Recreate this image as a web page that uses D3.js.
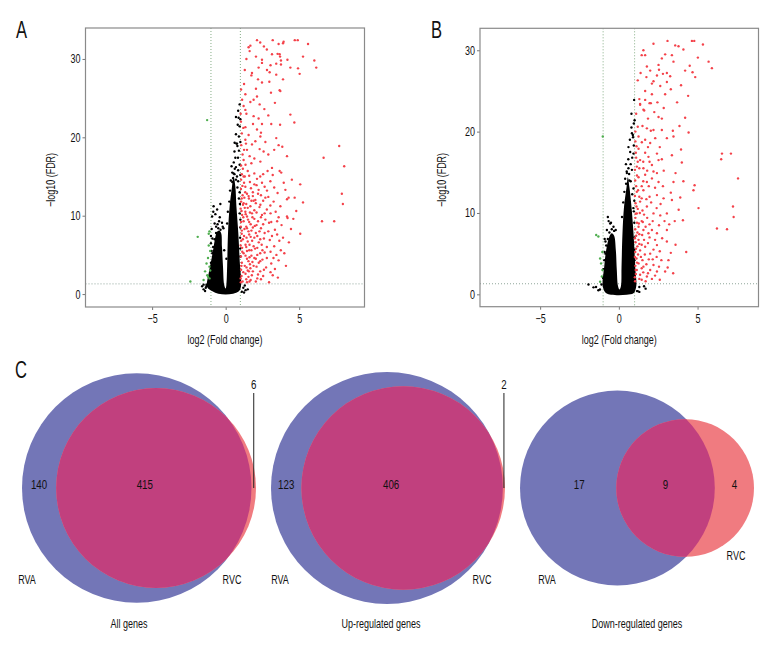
<!DOCTYPE html>
<html><head><meta charset="utf-8">
<script src="https://cdn.jsdelivr.net/npm/d3@7"></script>
<style>
body{margin:0;background:#fff}
text{font-family:"Liberation Sans",Arial,sans-serif;fill:#111}
</style></head>
<body><svg id="c" width="780" height="660"></svg>
<script>
// ---------------- DATA ----------------
const xTicks = [-5, 0, 5];
const yTicks = [0, 10, 20, 30];
const fcCut = 1;            // |log2 FC| threshold
const fdrCut = 1.3;         // -log10(0.05)

// outline of the dense cloud of non-significant genes, [log2FC, -log10FDR]
const coreA = [[-1.26,0.9],[-1.15,2.7],[-0.97,4.4],[-0.81,6.1],[-0.7,7.3],[-0.6,7.9],[-0.45,8.1],[-0.31,7.8],[-0.25,6],[-0.18,3.5],[-0.1,1.2],[0,0.7],[0.05,1.2],[0.1,3.5],[0.16,7.8],[0.27,11.2],[0.43,13.7],[0.54,15.0],[0.66,13.7],[0.73,11.2],[0.86,7.8],[0.95,4.4],[1.04,1.0],[0.9,0.35],[0.5,0.05],[0,-0.05],[-0.5,0.05],[-0.9,0.35]];
const coreB = [[-1.02,0.93],[-0.93,3.4],[-0.81,5.4],[-0.6,7.1],[-0.45,7.5],[-0.3,7.2],[-0.19,5.4],[-0.13,3.0],[-0.05,1.0],[0.04,0.6],[0.13,1.0],[0.17,3.4],[0.23,7.5],[0.33,10.8],[0.49,13.2],[0.57,14.4],[0.67,13.2],[0.8,10.8],[0.93,7.5],[1.04,3.4],[1.1,0.93],[0.93,0.12],[0.5,-0.05],[0,-0.1],[-0.5,-0.05],[-0.8,0.12]];

// individual genes, [log2FC, -log10FDR]
const genesA = [
[2.13,32.4],[3.2,32.4],[4.7,32.4],[4.9,32.4],[5.6,31.9],[3.6,31.9],[3.9,32.0],[3.94,32.2],[1.68,31.7],[1.56,31.5],[2.8,31.2],[1.63,31.0],[3.53,30.65],[3.15,30.6],[3.67,30.6],[5.26,30.3],[2.06,30.3],[3.7,30.3],[1.41,30.0],[2.47,29.9],[6.03,29.8],[3.76,29.8],[3.44,29.4],[3.76,29.3],[6.16,28.9],[4.4,28.9],[2.47,29.5],[2.24,28.9],[2.81,28.6],[2.99,28.3],[4.92,28.8],[1.79,28.2],[5.03,28.1],[1.75,27.9],[3.44,28.0],[2.2,27.4],[2.47,27.0],[2.97,27.1],[1.05,26.1],[2.06,26.2],[3.67,26.0],[3.72,25.9],[3.08,25.7],[1.34,25.5],[2.13,25.2],[1.9,24.8],[1.68,24.5],[2.31,24.2],[2.63,23.6],[1.22,24.0],[1.34,23.5],[4.4,22.9],[1.41,23.0],[1.9,22.7],[2.24,22.4],[4.67,21.9],[1.86,21.7],[2.47,21.7],[3.1,21.7],[3.7,21.6],[1.34,21.3],[2.13,21.0],[2.4,20.6],[1.56,20.3],[2.36,20.1],[3.44,19.9],[1.34,19.7],[2.02,19.5],[1.79,19.1],[7.72,18.9],[3.6,19.0],[1.45,18.4],[2.31,18.5],[2.58,18.2],[6.66,17.4],[4.17,17.6],[1.63,17.6],[1.22,17.1],[1.75,16.7],[2.36,16.9],[8.06,16.3],[3.15,16.1],[3.67,15.7],[3.78,15.5],[1.5,15.7],[1.95,15.4],[1.22,15.0],[2.13,14.7],[3.04,14.4],[2.47,14.2],[5.07,14.0],[1.34,13.7],[1.72,13.5],[2.24,13.3],[2.81,13.2],[3.53,12.9],[4.06,13.3],[7.9,12.8],[1.56,12.5],[2.02,12.0],[2.7,12.3],[3.26,11.8],[4.17,12.1],[4.28,12.3],[4.69,12.3],[1.22,11.6],[1.68,11.2],[2.36,11.4],[3.04,11.3],[3.72,11.2],[5.26,11.7],[7.97,11.5],[1.34,10.5],[1.79,10.3],[2.47,10.1],[3.6,9.8],[4.17,9.9],[4.21,9.7],[6.55,9.3],[7.38,9.3],[4.44,8.3],[5.07,7.7],[3.99,5.2],
[1.03,1.5],[1.08,2.3],[1.15,1.6],[1.05,3.1],[1.2,2.8],[1.1,4.0],[1.3,3.6],[1.04,4.8],[1.22,5.2],[1.12,5.9],[1.35,6.3],[1.06,6.8],[1.25,7.4],[1.1,8.1],[1.4,8.6],[1.05,9.2],[1.2,9.8],[1.08,10.6],[1.3,11.0],[1.05,11.8],[1.15,12.6],[1.04,13.4],[1.25,14.2],[1.1,15.3],[1.05,16.4],[1.15,17.8],[1.06,19.0],[1.1,20.5],[1.04,22.0],
[1.45,1.5],[1.55,2.2],[1.7,1.8],[1.5,3.0],[1.65,3.8],[1.85,2.9],[1.45,4.5],[1.75,4.9],[1.6,5.6],[1.9,6.1],[1.5,6.7],[1.7,7.3],[1.55,8.0],[1.85,8.5],[1.6,9.2],[1.45,9.9],[1.95,9.6],[1.5,11.0],[1.9,11.9],[1.45,12.8],[1.65,14.3],[1.85,13.0],
[2.05,1.6],[2.2,2.5],[2.4,1.9],[2.1,3.5],[2.35,4.2],[2.6,3.1],[2.15,5.0],[2.5,5.6],[2.8,4.6],[2.25,6.6],[2.6,7.1],[2.05,7.8],[2.4,8.4],[2.9,8.0],[2.2,9.3],[2.7,9.5],[3.1,3.9],[3.3,6.1],[3.0,6.9],[3.5,7.6],[3.2,2.4],[3.6,4.3],[2.95,1.5],[3.8,8.8],[3.4,10.5],[2.8,10.8],[2.2,12.8],[2.55,15.3],[1.95,17.3],
[1.02,2.0],[1.07,3.6],[1.13,5.4],[1.02,6.2],[1.17,7.0],[1.09,7.7],[1.28,8.3],[1.03,8.6],[1.22,9.3],[1.12,10.1],[1.36,10.2],[1.02,10.9],[1.18,11.4],[1.27,12.3],[1.09,12.2],[1.33,13.0],[1.14,13.8],[1.05,14.6],[1.3,15.0],[1.17,16.0],[1.35,16.5],[1.25,18.4],[1.38,19.2],[1.2,21.2],[1.02,23.0],[1.12,24.8],[1.25,26.8],[1.3,28.6],
[1.4,1.9],[1.62,1.6],[1.35,2.6],[1.58,2.9],[1.78,2.4],[1.42,3.4],[1.68,3.3],[1.9,3.6],[1.55,4.2],[1.82,4.1],[1.35,4.9],[1.62,4.7],[1.95,4.6],[1.45,5.5],[1.75,5.6],[2.0,5.8],[1.4,6.0],[1.62,6.3],[1.8,6.8],[1.42,7.2],[1.95,7.2],[1.6,7.6],[1.75,8.1],[1.45,8.4],[1.98,8.7],[1.7,8.9],[1.52,9.5],[1.82,9.8],[1.65,10.4],[1.95,10.7],[1.4,11.5],[1.75,11.9],[1.58,12.2],[1.85,12.5],[1.95,14.0],[1.6,15.1],
[2.15,2.0],[2.35,2.9],[2.55,2.3],[2.75,3.4],[2.25,4.0],[2.5,4.4],[2.05,4.5],[2.35,5.2],[2.65,5.3],[2.15,5.9],[2.45,6.3],[2.8,6.0],[2.35,7.0],[2.15,7.4],[2.65,7.8],[2.3,8.0],[2.55,8.9],[2.1,8.8],[2.95,9.1],[2.4,9.8],[2.1,10.4],[2.65,10.3],[2.3,11.1],[2.05,11.6],[2.55,11.9],[2.9,12.4],[2.4,12.6],[2.1,13.9],[2.65,13.7],[2.35,15.0],[2.85,15.7],
[3.05,2.8],[3.35,3.2],[3.55,2.1],[3.25,4.6],[3.75,5.6],[3.05,5.4],[3.45,5.0],[3.15,7.4],[3.65,6.8],[3.35,8.2],[3.1,9.2],[3.5,9.3],[4.1,3.6],[4.3,6.6],[4.6,9.6],[3.9,7.2],[4.8,10.6],[3.05,10.3],[3.3,13.6],[4.5,14.6],[3.95,14.2],[3.2,15.2],[2.9,17.8],[3.3,18.4],[3.85,18.8],[2.7,19.4],[2.9,22.8],[3.35,24.4],[3.9,27.4],[2.6,31.6],[4.2,29.9],[2.35,32.1],[3.05,29.2],
[-1.26,22.2],[-1.9,7.3],[-1.1,8.0],[-1.15,7.7],[-1.2,4.6],[-1.3,3.9],[-1.1,3.5],[-1.4,2.9],[-1.25,2.4],[-1.5,1.8],[-1.1,2.0],[-2.4,1.6],[-1.05,5.5],[-1.15,6.2],
[0.88,22.5],[0.95,21.4],[0.82,21.6],[1.0,22.3],[0.77,19.2],[1.0,19.4],[0.61,19.3],[0.73,19.2],[0.66,17.4],[0.84,17.4],[0.54,15.4],[0.77,15.0],[1.0,15.2],[0.95,16.5],[0.9,18.3],[-0.82,11.2],[-0.58,10.8],[-0.36,11.5],[-0.92,9.9],[-0.84,10.5],[-0.75,9.0],[-0.45,9.3],[-0.65,8.6],[-1.35,0.8],[-1.5,1.2],[-1.3,1.0],[1.2,0.8],[1.35,0.5],[1.3,1.1],[0.5,14.8],[0.62,16.0],[0.45,14.3],[0.85,14.4],[0.95,13.0],[0.97,11.5],[1.0,9.5],[-1.0,6.5],[-0.95,5.5],[-1.1,1.0],[-0.2,8.6],[-0.1,5.6],[0.05,4.5],
[-1.3,1.2],[-1.2,2.2],[-1.05,3.0],[-1.0,4.0],[-0.9,5.2],[-0.85,6.0],[-0.75,7.0],[-0.65,7.8],[-0.5,8.4],[-0.35,8.2],[-0.55,8.9],[-0.4,9.8],[-0.7,10.2],[-0.95,8.3],[-1.0,7.4],[-0.9,7.1],[0.35,14.5],[0.45,15.5],[0.6,15.3],[0.7,14.6],[0.8,13.6],[0.9,12.2],[0.95,10.3],[1.0,8.5],[0.98,7.2],[0.99,5.8],[1.0,4.8],[0.3,13.2],[0.25,11.8],[0.4,16.3],[0.55,16.8],[0.7,16.2],[0.85,15.8],[0.6,18.2],[0.8,18.9],[0.7,20.4],[0.9,20.1],[0.85,23.4],[0.95,24.2],[0.7,22.6],[-0.15,8.4],[-0.25,9.1],[0.1,9.0],[0.15,10.5],[1.1,0.3],[1.25,0.2],[-1.4,0.4],[-1.5,0.6],[-1.6,1.0],[1.5,0.6]
];
const genesB = [
[3.09,31.15],[4.64,31.15],[4.79,31.15],[5.34,30.7],[2.2,30.8],[3.58,30.6],[3.79,30.5],[1.56,30.0],[1.67,29.4],[2.94,29.5],[3.37,29.4],[2.73,29.0],[3.47,28.6],[5.02,29.1],[5.7,28.6],[5.91,27.8],[1.78,28.0],[1.99,27.5],[2.52,28.2],[2.42,26.9],[2.8,27.1],[3.05,27.2],[4.21,27.5],[4.68,27.3],[4.85,26.7],[3.26,26.8],[2.2,26.2],[2.1,25.9],[2.63,25.6],[3.05,26.1],[3.3,25.2],[2.94,24.6],[1.67,25.0],[2.1,24.6],[1.35,23.4],[1.56,22.7],[1.67,23.9],[2.03,23.5],[2.52,21.8],[2.73,21.6],[4.21,21.7],[1.78,20.4],[2.03,20.1],[2.2,20.2],[2.73,20.2],[3.43,20.1],[4.43,19.9],[3.05,19.2],[3.47,19.4],[1.99,18.6],[1.67,19.0],[2.31,19.2],[1.25,19.4],[1.46,18.7],[1.67,17.4],[2.42,17.3],[1.88,16.9],[6.55,17.3],[7.12,17.3],[3.37,17.1],[4.0,16.2],[1.35,16.5],[1.14,15.7],[1.56,15.5],[2.1,15.9],[2.52,16.5],[2.73,16.6],[6.5,16.6],[7.57,14.25],[1.25,14.4],[1.67,14.7],[2.1,14.25],[1.78,13.8],[2.42,14.9],[2.52,13.8],[3.47,13.8],[4.81,13.4],[4.74,12.8],[1.14,12.6],[1.56,12.8],[1.95,12.0],[2.42,12.2],[2.84,11.8],[3.37,11.6],[7.25,10.8],[7.29,9.5],[5.06,10.6],[4.07,9.1],[1.35,11.4],[1.78,10.8],[1.14,9.95],[2.2,9.95],[2.63,9.7],[3.05,9.95],[6.23,8.1],[6.87,8.0],[3.05,7.9],[1.56,7.9],[1.25,8.3],[1.88,7.5],[2.42,7.5],[3.05,6.5],[4.28,5.2],[3.15,4.2],[2.42,6.05],[1.99,5.0],[1.35,5.4],[1.25,6.7],[1.67,5.85],[1.25,3.8],[1.56,3.4],[1.99,3.0],[2.42,2.8],[1.78,2.2],[1.35,2.4],[1.14,3.0],[2.94,2.8],
[1.03,1.6],[1.08,2.5],[1.05,3.5],[1.12,4.4],[1.04,5.2],[1.18,5.9],[1.06,6.4],[1.1,7.2],[1.04,8.0],[1.15,8.8],[1.05,9.4],[1.2,10.5],[1.06,11.2],[1.1,13.3],[1.04,14.0],[1.2,16.3],[1.08,17.4],[1.12,18.2],[1.05,20.0],[1.3,1.9],[1.4,4.6],[1.3,7.4],[1.45,9.0],[1.5,10.3],[1.3,12.0],[1.45,13.3],[1.35,23.3],[1.95,23.5],[1.61,22.6],
[1.02,2.1],[1.07,3.0],[1.15,3.9],[1.02,4.6],[1.22,4.9],[1.09,5.6],[1.3,6.2],[1.02,6.9],[1.18,7.6],[1.27,8.7],[1.07,9.9],[1.33,10.0],[1.12,10.8],[1.02,12.1],[1.22,12.8],[1.15,14.6],[1.02,15.3],[1.3,15.5],[1.1,16.8],[1.25,17.9],[1.05,18.8],[1.2,20.6],[1.1,22.2],[1.3,24.0],[1.2,26.3],[1.38,27.2],[1.45,29.4],
[1.45,1.8],[1.7,1.6],[1.55,2.7],[1.85,2.6],[1.45,3.2],[1.75,3.7],[1.5,4.2],[1.9,4.3],[1.65,4.9],[1.45,6.1],[1.85,6.3],[1.6,6.7],[1.95,7.0],[1.48,7.3],[1.7,8.3],[1.95,8.6],[1.52,8.9],[1.8,9.4],[1.6,9.8],[1.45,11.8],[1.75,11.7],[1.9,13.3],[1.55,13.9],[1.8,15.2],[1.95,16.3],[1.55,16.3],[1.85,18.1],[1.5,20.7],[1.85,21.6],[1.75,26.7],
[2.1,1.9],[2.3,2.3],[2.6,1.8],[2.2,3.6],[2.55,3.4],[2.15,4.3],[2.4,4.6],[2.7,4.2],[2.2,5.5],[2.6,5.3],[2.3,6.7],[2.75,6.9],[2.1,7.9],[2.55,8.5],[2.15,9.0],[2.9,9.0],[2.4,10.6],[2.05,11.3],[2.65,11.1],[2.3,13.1],[2.8,13.3],[2.2,15.1],[2.85,15.2],[2.6,18.1],[2.25,22.4],[2.45,23.6],[2.85,22.9],[2.55,27.6],
[3.1,3.3],[3.45,2.6],[3.3,5.1],[3.6,6.1],[3.2,8.6],[3.55,9.0],[3.8,10.4],[3.3,12.5],[3.9,11.9],[3.6,14.9],[4.1,13.9],[3.95,17.8],[3.85,20.7],[3.7,23.6],[3.95,25.7],[4.4,24.4],[4.5,28.1],[4.1,30.1],
[-1.02,19.4],[-1.44,7.3],[-1.3,7.1],[-1.19,4.4],[-1.13,3.8],[-1.04,3.0],[-1.08,2.2],[-1.19,1.55],[-1.05,5.2],
[0.97,23.9],[1.0,21.4],[0.89,19.6],[0.83,19.8],[0.61,18.1],[0.72,17.5],[0.93,17.3],[0.61,15.5],[0.51,14.9],[0.83,15.3],[0.67,14.0],[0.46,13.6],[0.93,13.0],[0.98,11.5],[0.95,10.2],[-0.7,9.5],[-0.55,8.7],[-0.76,7.9],[-0.34,8.3],[-1.61,0.86],[-1.93,1.2],[-1.2,0.6],[1.3,0.9],[1.6,1.0],[1.2,0.4],[-0.85,6.5],[-0.9,5.2],[0.95,18.3],[0.8,20.5],
[-1.1,1.2],[-1.0,2.0],[-0.98,3.1],[-0.92,4.2],[-0.85,5.0],[-0.8,6.0],[-0.7,6.8],[-0.6,7.6],[-0.45,8.0],[-0.3,7.8],[-0.5,8.8],[-0.65,9.0],[-0.9,6.8],[0.4,14.2],[0.5,15.1],[0.65,14.8],[0.75,13.9],[0.85,12.3],[0.92,10.6],[0.98,8.8],[0.99,7.0],[0.99,5.5],[0.99,4.2],[0.35,12.6],[0.28,11.3],[0.45,16.0],[0.6,16.6],[0.75,16.0],[0.85,16.8],[0.7,19.0],[0.9,19.3],[0.95,21.0],[0.8,22.2],[0.2,9.5],[1.15,0.4],[1.3,0.3],[-1.3,0.5],[-1.45,0.9],[1.7,0.7],[-0.2,7.9]
];

// Venn diagrams
const vennSets = ["RVA", "RVC"];
const vennTitles = ["All genes", "Up-regulated genes", "Down-regulated genes"];
const onlyRVA = [140, 123, 17];
const bothSets = [415, 406, 9];
const onlyRVC = [6, 2, 4];

// ---------------- LAYOUT ----------------
const svg = d3.select("#c");
const squeeze = 0.72;   // narrow-face look
const colUp = "#f4424a", colDown = "#4fae4f", colNs = "#000";
const colA = "#7376b7", colB = "#f07b80", colAB = "#c1407e";

function label(parent, x, y, s, size, anchor, rot) {
  return parent.append("text")
    .attr("transform", `translate(${x},${y})${rot ? " rotate(" + rot + ")" : ""} scale(${squeeze},1)`)
    .attr("text-anchor", anchor || "middle").style("font-size", size + "px").text(s);
}

const panels = [
  {letter:"A", lx:16, genes:genesA, core:coreA, box:[85.5,364.5,28,307], xd:[-9.53,9.44], yd:[-1.65,33.95], ytx:55},
  {letter:"B", lx:431, genes:genesB, core:coreB, box:[480,758.5,28.3,306.7], xd:[-8.82,8.87], yd:[-1.52,32.7], ytx:446}
];

panels.forEach(p => {
  const [x0,x1,y0,y1] = p.box;
  const x = d3.scaleLinear().domain(p.xd).range([x0,x1]);
  const y = d3.scaleLinear().domain(p.yd).range([y1,y0]);
  const g = svg.append("g");
  const cid = "clip" + p.letter;
  g.append("clipPath").attr("id", cid).append("rect").attr("x",x0).attr("y",y0).attr("width",x1-x0).attr("height",y1-y0);
  const plot = g.append("g").attr("clip-path", `url(#${cid})`);

  [-fcCut, fcCut].forEach(v => plot.append("line").attr("x1",x(v)).attr("x2",x(v)).attr("y1",y0).attr("y2",y1)
      .attr("stroke","#86ad86").attr("stroke-width",1).attr("stroke-dasharray","1,2"));
  plot.append("line").attr("x1",x0).attr("x2",x1).attr("y1",y(fdrCut)).attr("y2",y(fdrCut))
      .attr("stroke","#8fa69a").attr("stroke-width",1).attr("stroke-dasharray","1,2");

  plot.append("path").datum(p.core)
    .attr("d", d3.line().x(d=>x(d[0])).y(d=>y(d[1])).curve(d3.curveCatmullRomClosed))
    .attr("fill", colNs);

  const cls = d => (d[1] > fdrCut && d[0] > fcCut) ? colUp : (d[1] > fdrCut && d[0] < -fcCut) ? colDown : colNs;
  const order = d => cls(d) === colNs ? 0 : 1;
  plot.selectAll("circle").data(p.genes.slice().sort((a,b)=>order(a)-order(b))).join("circle")
    .attr("cx", d=>x(d[0])).attr("cy", d=>y(d[1])).attr("r", 1.2)
    .attr("fill", cls);

  const ax = g.append("g").attr("transform",`translate(0,${y1})`)
    .call(d3.axisBottom(x).tickValues(xTicks).tickSize(3).tickPadding(4));
  const ay = g.append("g").attr("transform",`translate(${x0},0)`)
    .call(d3.axisLeft(y).tickValues(yTicks).tickSize(3).tickPadding(2));
  [ax, ay].forEach(a => {
    a.select(".domain").remove();
    a.selectAll(".tick line").attr("stroke","#777");
    a.selectAll(".tick text").style("font-size","12.5px").attr("fill","#111")
      .attr("font-family",null)
      .each(function(){ const t = d3.select(this); const xx = +t.attr("x") || 0;
        t.attr("x", xx / squeeze).attr("transform", `scale(${squeeze},1)`); });
  });
  g.append("rect").attr("x",x0).attr("y",y0).attr("width",x1-x0).attr("height",y1-y0)
    .attr("fill","none").attr("stroke","#8a8a8a").attr("stroke-width",1.2);

  label(g, (x0+x1)/2, 343.5, "log2 (Fold change)", 12.5);
  label(g, p.ytx, 180, "\u2212log10 (FDR)", 12.5, "middle", -90);
  label(g, p.lx, 37.5, p.letter, 23, "start");
});
svg.selectAll(".tick text").style("font-family", '"Liberation Sans",Arial,sans-serif');

// ---------------- VENN ----------------
label(svg, 15, 377.5, "C", 23, "start");

function lens(r1, r2, d) {
  if (d >= r1 + r2) return 0;
  if (d <= Math.abs(r1 - r2)) return Math.PI * Math.min(r1, r2) ** 2;
  const a1 = Math.acos((d*d + r1*r1 - r2*r2) / (2*d*r1));
  const a2 = Math.acos((d*d + r2*r2 - r1*r1) / (2*d*r2));
  return r1*r1*(a1 - Math.sin(2*a1)/2) + r2*r2*(a2 - Math.sin(2*a2)/2);
}
const vennWidth = 234, vennCy = 488;
const catPos = [[5,584,210,584],[9,584,211,584],[27,584,216,560]];
const titleDx = [107,110,117];
const bothShift = [-9,-11,0];
const onlyAShift = [0,0,11];

vennTitles.forEach((title, i) => {
  const nA = onlyRVA[i] + bothSets[i], nB = onlyRVC[i] + bothSets[i];
  const r = d3.scaleSqrt().domain([0, 1]).range([0, 1]);
  let rA = r(nA / Math.PI), rB = r(nB / Math.PI);
  let lo = Math.abs(rA - rB), hi = rA + rB;
  for (let k = 0; k < 80; k++) { const m = (lo+hi)/2; if (lens(rA, rB, m) > bothSets[i]) lo = m; else hi = m; }
  let d = (lo + hi) / 2;
  const k = vennWidth / (rA + Math.max(rA, d + rB));
  rA *= k; rB *= k; d *= k;
  const left = 22 + i * 249;
  const cxA = left + rA, cxB = cxA + d;
  const g = svg.append("g");
  const cid = "vclip" + i;
  g.append("clipPath").attr("id", cid).append("circle").attr("cx",cxA).attr("cy",vennCy).attr("r",rA);
  g.append("circle").attr("cx",cxA).attr("cy",vennCy).attr("r",rA).attr("fill",colA);
  g.append("circle").attr("cx",cxB).attr("cy",vennCy).attr("r",rB).attr("fill",colB);
  g.append("circle").attr("cx",cxB).attr("cy",vennCy).attr("r",rB).attr("fill",colAB).attr("clip-path",`url(#${cid})`);

  const lA = cxA - rA, rEdgeA = cxA + rA, lB = cxB - rB, rEdgeB = cxB + rB;
  label(g, (lA + lB)/2 + onlyAShift[i], vennCy + 1, onlyRVA[i], 13.5);
  label(g, (lB + Math.min(rEdgeA, rEdgeB))/2 + bothShift[i], vennCy + 1, bothSets[i], 13.5);
  const bx = (rEdgeA + rEdgeB) / 2;
  if (rEdgeB - rEdgeA < 15) {
    label(g, bx, 389, onlyRVC[i], 13.5);
    g.append("line").attr("x1",bx).attr("x2",bx).attr("y1",393).attr("y2",vennCy).attr("stroke","#222").attr("stroke-width",1);
  } else {
    label(g, bx, vennCy + 1, onlyRVC[i], 13.5);
  }
  const c = catPos[i];
  label(g, left + c[0], c[1], vennSets[0], 12.5);
  label(g, left + c[2], c[3], vennSets[1], 12.5);
  label(g, left + titleDx[i], 628, title, 12.5);
});
</script></body></html>
